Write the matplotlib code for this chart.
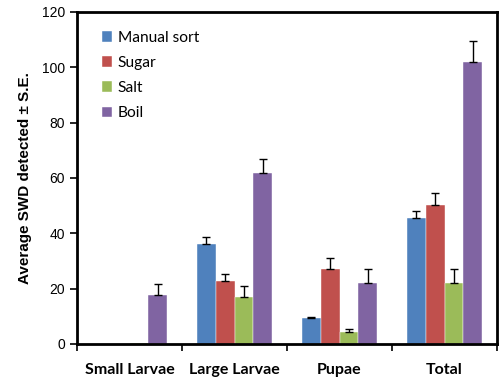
import numpy as np
import matplotlib
matplotlib.use("Agg")
from matplotlib import pyplot as plt

# data
categories = ["Small Larvae", "Large Larvae", "Pupae", "Total"]
methods = ["Manual sort", "Sugar", "Salt", "Boil"]
manual_sort = [0.0, 36.0, 9.2, 45.4]
sugar = [0.0, 22.9, 27.0, 50.1]
salt = [0.3, 16.9, 4.3, 21.9]
boil = [17.7, 61.7, 21.9, 102.0]
manual_sort_se = [0.0, 2.8, 0.7, 2.7]
sugar_se = [0.0, 2.5, 4.0, 4.6]
salt_se = [0.0, 4.2, 1.1, 5.1]
boil_se = [4.1, 5.2, 5.1, 7.6]

colors = ["#4F81BD", "#C0504D", "#9BBB59", "#8064A2"]
series = [manual_sort, sugar, salt, boil]
errors = [manual_sort_se, sugar_se, salt_se, boil_se]

fig = plt.figure(figsize=(5, 3.83), dpi=100)
ax = fig.add_axes([0.154, 0.102, 0.84, 0.867])

x = np.arange(len(categories))
w = 0.18
for i, (vals, err) in enumerate(zip(series, errors)):
    pos = x + (i - 1.5) * w
    ax.bar(pos, vals, w, color=colors[i], label=methods[i], edgecolor="white", linewidth=0.3)
    shown = [j for j, e in enumerate(err) if e > 0]
    ax.errorbar(pos[shown], np.array(vals)[shown], yerr=[np.zeros(len(shown)), np.array(err)[shown]],
                fmt="none", ecolor="black", elinewidth=1, capsize=3, capthick=1)

ax.set_xlim(-0.5, 3.5)
ax.set_ylim(0, 120)
ax.set_yticks(range(0, 121, 20))
ax.set_xticks(np.arange(-0.5, 4.0, 1.0))
ax.set_xticklabels([])
ax.set_xticks(x, minor=True)
ax.set_xticklabels(categories, minor=True, fontfamily="Lato", fontweight="bold", fontsize=11.5)
ax.tick_params(axis="x", which="minor", length=0, pad=14)
ax.tick_params(axis="x", which="major", length=5, width=1.2, direction="out")
ax.tick_params(axis="y", length=5, width=1.2, direction="out", labelsize=10)
for lab in ax.get_yticklabels():
    lab.set_fontfamily("Liberation Sans")
for s in ax.spines.values():
    s.set_linewidth(2)

ax.set_ylabel("Average SWD detected ± S.E.", fontfamily="Liberation Sans", fontweight="bold",
              fontsize=11, labelpad=7)

leg = ax.legend(loc="upper left", frameon=False, prop={"family": "Lato", "size": 11.2},
                handlelength=0.7, handleheight=0.7, handletextpad=0.35, labelspacing=0.72,
                bbox_to_anchor=(0.025, 0.985))

plt.savefig("out.png", dpi=100)
